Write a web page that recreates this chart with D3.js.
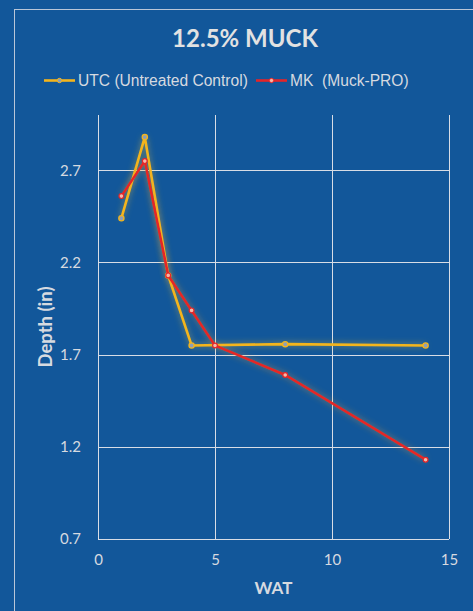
<!DOCTYPE html>
<html>
<head>
<meta charset="utf-8">
<script src="https://cdn.jsdelivr.net/npm/d3@7"></script>
<style>
  html, body { margin: 0; padding: 0; background: #12579a; }
  svg { display: block; }
</style>
</head>
<body>
<svg id="chart"></svg>
<script>
// Chart data
const utcX = [1, 2, 3, 4, 8, 14];
const utcDepth = [2.44, 2.88, 2.13, 1.75, 1.757, 1.75];
const mkX = [1, 2, 3, 4, 5, 8, 14];
const mkDepth = [2.56, 2.75, 2.13, 1.94, 1.75, 1.59, 1.13];
const xTicks = [0, 5, 10, 15];
const yTicks = [0.7, 1.2, 1.7, 2.2, 2.7];

const width = 473;
const height = 611;
const margin = { left: 98, right: 24, top: 115, bottom: 72 };

const svg = d3.select("#chart")
    .attr("width", width)
    .attr("height", height);

// glow filters
const defs = svg.append("defs");
function glow(id, color) {
    const f = defs.append("filter").attr("id", id)
        .attr("x", "-20%").attr("y", "-20%").attr("width", "140%").attr("height", "140%");
    f.append("feGaussianBlur").attr("in", "SourceAlpha").attr("stdDeviation", 3).attr("result", "b");
    f.append("feFlood").attr("flood-color", color).attr("flood-opacity", 0.55);
    f.append("feComposite").attr("in2", "b").attr("operator", "in").attr("result", "g");
    const m = f.append("feMerge");
    m.append("feMergeNode").attr("in", "g");
    m.append("feMergeNode").attr("in", "SourceGraphic");
}
glow("glowY", "#f2c230");
glow("glowR", "#f0a030");

// chart border
svg.append("rect")
    .attr("x", 14.5).attr("y", 9.5)
    .attr("width", width + 10).attr("height", height + 10)
    .attr("fill", "none")
    .attr("stroke", "#b9c6d8")
    .attr("stroke-width", 1);

const x = d3.scaleLinear().domain([0, 15]).range([margin.left, width - margin.right]);
const y = d3.scaleLinear().domain([0.7, 3.0]).range([height - margin.bottom, margin.top]);

// grid
const grid = svg.append("g").attr("stroke", "#d8dde6").attr("stroke-width", 1);
grid.selectAll(".vg").data(xTicks).enter().append("line")
    .attr("x1", d => Math.round(x(d)) + 0.5).attr("x2", d => Math.round(x(d)) + 0.5)
    .attr("y1", y(3.0)).attr("y2", y(0.7));
grid.selectAll(".hg").data(yTicks).enter().append("line")
    .attr("x1", x(0)).attr("x2", x(15))
    .attr("y1", d => Math.round(y(d)) + 0.5).attr("y2", d => Math.round(y(d)) + 0.5);

// axes labels
const xAxis = d3.axisBottom(x).tickValues(xTicks).tickSize(0).tickPadding(15);
const yAxis = d3.axisLeft(y).tickValues(yTicks).tickSize(0).tickPadding(17).tickFormat(d3.format(".1f"));

const gx = svg.append("g").attr("transform", `translate(0,${y(0.7)})`).call(xAxis);
const gy = svg.append("g").attr("transform", `translate(${x(0)},0)`).call(yAxis);
[gx, gy].forEach(g => {
    g.select(".domain").remove();
    g.selectAll("text")
        .attr("fill", "#d6dae0")
        .style("font-family", "Lato, 'Open Sans', sans-serif")
        .style("font-size", "15px");
});

// lines
const line = d3.line().x(d => x(d[0])).y(d => y(d[1]));
const utcData = utcX.map((v, i) => [v, utcDepth[i]]);
const mkData = mkX.map((v, i) => [v, mkDepth[i]]);

svg.append("path").datum(utcData)
    .attr("d", line).attr("fill", "none")
    .attr("stroke", "#f4b51c").attr("stroke-width", 2.6)
    .attr("filter", "url(#glowY)");
svg.selectAll(".mu").data(utcData).enter().append("circle")
    .attr("cx", d => x(d[0])).attr("cy", d => y(d[1])).attr("r", 2.6)
    .attr("fill", "#8d9fb8").attr("stroke", "#f4b51c").attr("stroke-width", 1.3);

svg.append("path").datum(mkData)
    .attr("d", line).attr("fill", "none")
    .attr("stroke", "#e52528").attr("stroke-width", 2.6)
    .attr("filter", "url(#glowR)");
svg.selectAll(".mm").data(mkData).enter().append("circle")
    .attr("cx", d => x(d[0])).attr("cy", d => y(d[1])).attr("r", 2.4)
    .attr("fill", "#f7b8a8").attr("stroke", "#e52528").attr("stroke-width", 1.2);

// title
svg.append("text")
    .attr("x", 245).attr("y", 47)
    .attr("text-anchor", "middle")
    .attr("fill", "#e2e2e2")
    .style("font-family", "Lato, 'Open Sans', sans-serif")
    .style("font-weight", "bold")
    .style("font-size", "24px")
    .text("12.5% MUCK");

// legend
const legend = [
    { label: "UTC (Untreated Control)", color: "#f4b51c", fill: "#8d9fb8", x0: 44 },
    { label: "MK\u00a0\u00a0(Muck-PRO)", color: "#e52528", fill: "#f7b8a8", x0: 256 }
];
const lg = svg.selectAll(".lg").data(legend).enter().append("g");
lg.append("line")
    .attr("x1", d => d.x0).attr("x2", d => d.x0 + 31)
    .attr("y1", 80.5).attr("y2", 80.5)
    .attr("stroke", d => d.color).attr("stroke-width", 2.6);
lg.append("circle")
    .attr("cx", d => d.x0 + 15.5).attr("cy", 80.5).attr("r", 2.2)
    .attr("fill", d => d.fill).attr("stroke", d => d.color).attr("stroke-width", 1);
lg.append("text")
    .attr("x", d => d.x0 + 34).attr("y", 86)
    .attr("fill", "#d6dae0")
    .style("font-family", "'Liberation Sans', Arial, sans-serif")
    .style("font-size", "15.6px")
    .text(d => d.label);

// axis titles
svg.append("text")
    .attr("x", (x(0) + x(15)) / 2).attr("y", 594)
    .attr("text-anchor", "middle")
    .attr("fill", "#d6dae0")
    .style("font-family", "Lato, 'Open Sans', sans-serif")
    .style("font-weight", "bold")
    .style("font-size", "17px")
    .text("WAT");

svg.append("text")
    .attr("transform", `translate(52,${(y(0.7) + y(3.0)) / 2}) rotate(-90)`)
    .attr("text-anchor", "middle")
    .attr("fill", "#d6dae0")
    .style("font-family", "Lato, 'Open Sans', sans-serif")
    .style("font-weight", "bold")
    .style("font-size", "18.5px")
    .text("Depth (in)");
</script>
</body>
</html>
